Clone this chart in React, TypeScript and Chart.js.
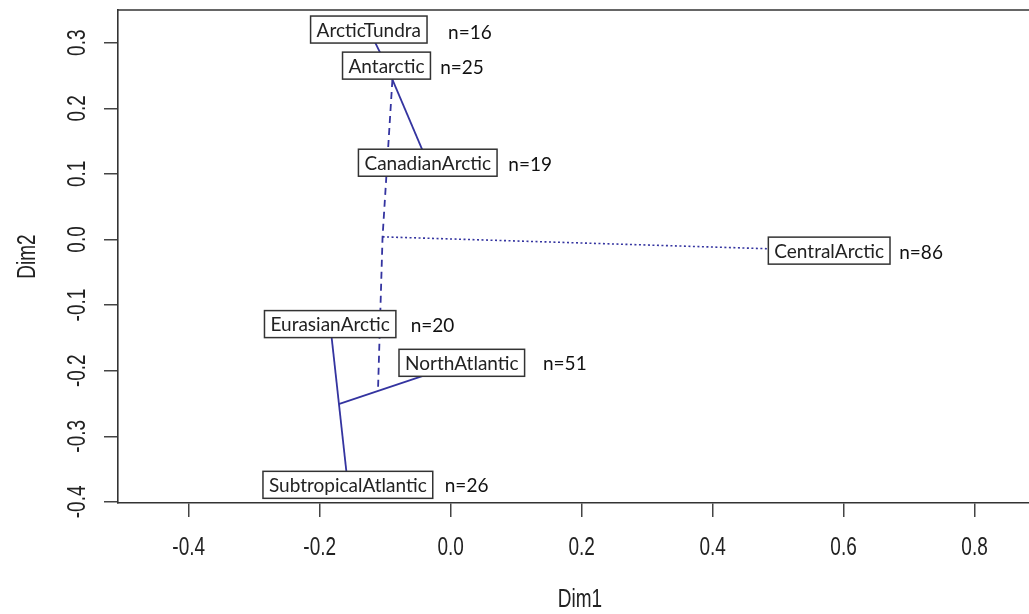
import React, { useEffect, useRef } from "react";
import { Chart, registerables } from "chart.js";

Chart.register(...registerables);

// ---- data ----
const siteNames = [
  "ArcticTundra",
  "Antarctic",
  "CanadianArctic",
  "CentralArctic",
  "EurasianArctic",
  "NorthAtlantic",
  "SubtropicalAtlantic",
];
const siteDim1 = [-0.125, -0.098, -0.035, 0.578, -0.184, 0.017, -0.157];
const siteDim2 = [0.320, 0.265, 0.117, -0.017, -0.129, -0.188, -0.374];
const sampleSizes = [16, 25, 19, 86, 20, 51, 26];
// position (left edge / middle) of each "n=" annotation
const nLabelDim1 = [-0.004, -0.016, 0.088, 0.685, -0.061, 0.141, -0.009];
const nLabelDim2 = [0.316, 0.263, 0.115, -0.019, -0.130, -0.188, -0.374];

// internal nodes of the tree
const junctionNames = ["J1", "J2", "J3", "J4"];
const junctionDim1 = [-0.089, -0.104, -0.111, -0.171];
const junctionDim2 = [0.243, 0.004, -0.231, -0.251];

const solidEdges = [
  ["ArcticTundra", "Antarctic"],
  ["Antarctic", "CanadianArctic"],
  ["EurasianArctic", "SubtropicalAtlantic"],
  ["J4", "NorthAtlantic"],
];
const dashedPath = ["J1", "J2", "J3"];
const dottedPath = ["J2", "CentralArctic"];

const xRange = [-0.508, 0.903];
const yRange = [-0.4017, 0.3498];
const xStep = 0.2;
const yStep = 0.1;
const xTitle = "Dim1";
const yTitle = "Dim2";

const LINE_COLOR = "#3434a0";
const AXIS_FONT = "'Liberation Sans', Arial, sans-serif";
const LABEL_FONT = "Lato, 'Open Sans', sans-serif";
const NARROW = 0.76;

function nodePoint(name: string) {
  const i = siteNames.indexOf(name);
  if (i >= 0) return { x: siteDim1[i], y: siteDim2[i] };
  const j = junctionNames.indexOf(name);
  return { x: junctionDim1[j], y: junctionDim2[j] };
}

function fmt(v: number) {
  if (Math.abs(v) < 1e-9) return "0.0";
  return v.toFixed(1);
}

const framePlugin = {
  id: "frameTop",
  afterDraw(chart: any) {
    const { ctx, chartArea } = chart;
    ctx.save();
    ctx.strokeStyle = "#333";
    ctx.lineWidth = 1.6;
    ctx.beginPath();
    ctx.moveTo(chartArea.left, chartArea.top);
    ctx.lineTo(chartArea.right, chartArea.top);
    ctx.stroke();
    ctx.restore();
  },
};

function narrowText(ctx: any, text: string, x: number, y: number, rot: number) {
  ctx.save();
  ctx.translate(x, y);
  if (rot) ctx.rotate(rot);
  ctx.scale(NARROW, 1);
  ctx.fillText(text, 0, 0);
  ctx.restore();
}

const axisTextPlugin = {
  id: "axisText",
  afterDraw(chart: any) {
    const { ctx, chartArea } = chart;
    const xs = chart.scales.x;
    const ys = chart.scales.y;
    ctx.save();
    ctx.fillStyle = "#222";
    ctx.font = `25px ${AXIS_FONT}`;
    ctx.textAlign = "center";
    ctx.textBaseline = "middle";
    xs.ticks.forEach((t: any) => {
      narrowText(ctx, fmt(t.value), xs.getPixelForValue(t.value), chartArea.bottom + 45, 0);
    });
    ys.ticks.forEach((t: any) => {
      narrowText(ctx, fmt(t.value), chartArea.left - 40, ys.getPixelForValue(t.value), -Math.PI / 2);
    });
    narrowText(ctx, xTitle, (chartArea.left + chartArea.right) / 2, 600, 0);
    narrowText(ctx, yTitle, 28, (chartArea.top + chartArea.bottom) / 2, -Math.PI / 2);
    ctx.restore();
  },
};

const labelPlugin = {
  id: "siteLabels",
  afterDatasetsDraw(chart: any) {
    const { ctx } = chart;
    const xs = chart.scales.x;
    const ys = chart.scales.y;
    ctx.save();
    ctx.font = `19px ${LABEL_FONT}`;
    siteNames.forEach((name, i) => {
      const cx = xs.getPixelForValue(siteDim1[i]);
      const cy = ys.getPixelForValue(siteDim2[i]);
      const w = ctx.measureText(name).width + 12;
      const h = 27;
      ctx.fillStyle = "#ffffff";
      ctx.fillRect(cx - w / 2, cy - h / 2, w, h);
      ctx.strokeStyle = "#333";
      ctx.lineWidth = 1.5;
      ctx.strokeRect(cx - w / 2, cy - h / 2, w, h);
      ctx.fillStyle = "#222";
      ctx.textAlign = "center";
      ctx.textBaseline = "middle";
      ctx.fillText(name, cx, cy + 1);
      ctx.textAlign = "left";
      ctx.fillStyle = "#111";
      ctx.fillText(
        "n=" + sampleSizes[i],
        xs.getPixelForValue(nLabelDim1[i]),
        ys.getPixelForValue(nLabelDim2[i]) + 1
      );
    });
    ctx.restore();
  },
};

export default function App() {
  const canvasRef = useRef<HTMLCanvasElement | null>(null);

  useEffect(() => {
    const canvas = canvasRef.current;
    if (!canvas) return;

    const datasets: any[] = [];
    solidEdges.forEach((e) => {
      datasets.push({
        data: e.map(nodePoint),
        showLine: true,
        borderColor: LINE_COLOR,
        borderWidth: 1.8,
        pointRadius: 0,
        fill: false,
      });
    });
    datasets.push({
      data: dashedPath.map(nodePoint),
      showLine: true,
      borderColor: LINE_COLOR,
      borderWidth: 1.8,
      borderDash: [7, 5],
      pointRadius: 0,
      fill: false,
    });
    datasets.push({
      data: dottedPath.map(nodePoint),
      showLine: true,
      borderColor: LINE_COLOR,
      borderWidth: 1.6,
      borderDash: [2, 2.5],
      pointRadius: 0,
      fill: false,
    });

    const hidden = "rgba(0,0,0,0)";

    const chart = new Chart(canvas, {
      type: "scatter",
      data: { datasets },
      plugins: [framePlugin, labelPlugin, axisTextPlugin],
      options: {
        animation: false,
        responsive: false,
        devicePixelRatio: 1,
        layout: { padding: { top: 10, left: 0, right: 0, bottom: 0 } },
        plugins: {
          legend: { display: false },
          tooltip: { enabled: false },
          title: { display: false },
        },
        scales: {
          x: {
            type: "linear",
            min: xRange[0],
            max: xRange[1],
            afterFit: (s: any) => {
              s.height = 111;
              s.paddingLeft = 0;
              s.paddingRight = 0;
            },
            grid: {
              display: true,
              drawOnChartArea: false,
              drawTicks: true,
              tickLength: 14,
              color: "#444",
              lineWidth: 1.5,
            },
            border: { display: true, color: "#333", width: 1.6 },
            ticks: {
              stepSize: xStep,
              includeBounds: false,
              autoSkip: false,
              maxRotation: 0,
              color: hidden,
              font: { family: AXIS_FONT, size: 24 },
              callback: (v: any) => fmt(Number(v)),
            },
            title: { display: false },
          },
          y: {
            type: "linear",
            min: yRange[0],
            max: yRange[1],
            afterFit: (s: any) => {
              s.width = 118;
              s.paddingTop = 0;
              s.paddingBottom = 0;
            },
            grid: {
              display: true,
              drawOnChartArea: false,
              drawTicks: true,
              tickLength: 14,
              color: "#444",
              lineWidth: 1.5,
            },
            border: { display: true, color: "#333", width: 1.6 },
            ticks: {
              stepSize: yStep,
              includeBounds: false,
              autoSkip: false,
              color: hidden,
              font: { family: AXIS_FONT, size: 24 },
              callback: (v: any) => fmt(Number(v)),
            },
            title: { display: false },
          },
        },
      } as any,
    });

    return () => chart.destroy();
  }, []);

  return (
    <div
      style={{
        position: "absolute",
        left: 0,
        top: 0,
        width: 1029,
        height: 614,
        overflow: "hidden",
        background: "#fff",
      }}
    >
      <canvas ref={canvasRef} width={1042} height={614} style={{ display: "block" }} />
    </div>
  );
}
